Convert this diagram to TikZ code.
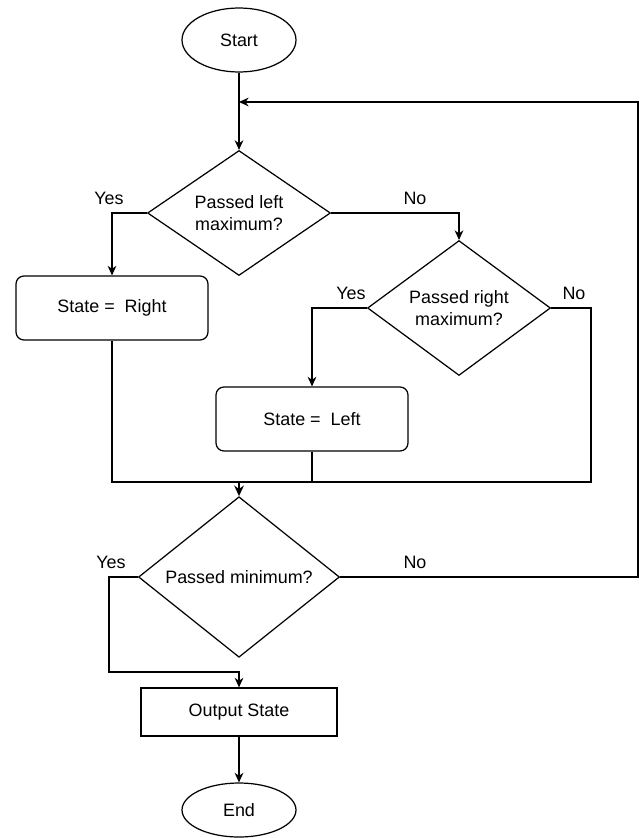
\documentclass[tikz,border=0pt]{standalone}
\usepackage{fontspec}
\setmainfont{Liberation Sans}
\usetikzlibrary{arrows.meta,positioning,shapes.geometric}

\begin{document}
\begin{tikzpicture}[x=0.02cm,y=-0.02cm,
  every node/.style={font=\fontsize{10.2}{12.6}\selectfont},
  term/.style={ellipse,draw=black,line width=0.7pt,inner sep=0pt,
               minimum width=2.28cm,minimum height=1.28cm},
  decision/.style={diamond,draw=black,line width=0.7pt,inner sep=0pt,align=center,
               minimum width=3.66cm,minimum height=2.5cm},
  statebox/.style={rectangle,rounded corners=4.5pt,draw=black,line width=0.7pt,
               minimum width=3.84cm,minimum height=1.28cm},
  outbox/.style={rectangle,draw=black,line width=0.7pt,
               minimum width=3.92cm,minimum height=0.96cm},
  flow/.style={-{Stealth[length=5.5pt,width=5pt]},line width=0.7pt},
  thickflow/.style={-{Stealth[length=6pt,width=5.5pt]},line width=1.2pt},
  link/.style={line width=0.7pt},
  answer/.style={inner sep=0pt}
]
\useasboundingbox (0,0) rectangle (639,838);
\node[term] (start) at (239,40) {Start};
\node[decision] (leftmax) at (239,213) {Passed left\\maximum?};
\node[decision] (rightmax) at (459,308) {Passed right\\maximum?};
\node[statebox] (goright) at (112,308) {State =~ Right};
\node[statebox] (goleft) at (312,419) {State =~ Left};
\node[decision,minimum width=4.02cm] (minimum) at (239,577) {Passed minimum?};
\node[outbox] (output) at (239,712) {Output State};
\node[term,minimum height=1.08cm] (finish) at (239,810) {End};
\coordinate (loopin) at (239,102);
\coordinate (merge) at (239,482);
\draw[flow] (start) -- (leftmax);
\draw[flow] (leftmax.west) -| (goright.north);
\draw[flow] (leftmax.east) -| (rightmax.north);
\draw[flow] (rightmax.west) -| (goleft.north);
\draw[link] (rightmax.east) -| (591,482) -- (goright.south |- merge) -- (goright.south);
\draw[link] (goleft.south) -- (goleft.south |- merge);
\draw[thickflow] (merge) -- (minimum.north);
\draw[flow] (minimum.west) -| (109,672) -| (output.north);
\draw[flow] (minimum.east) -| (638,102) -- (loopin);
\draw[flow] (output) -- (finish);
\node[answer] (yes1) at (109,198) {Yes};
\node[answer] (no1) at (415,198) {No};
\node[answer] (yes2) at (351,293) {Yes};
\node[answer] (no2) at (574,293) {No};
\node[answer] (yes3) at (111,562) {Yes};
\node[answer] (no3) at (415,562) {No};
\end{tikzpicture}
\end{document}
